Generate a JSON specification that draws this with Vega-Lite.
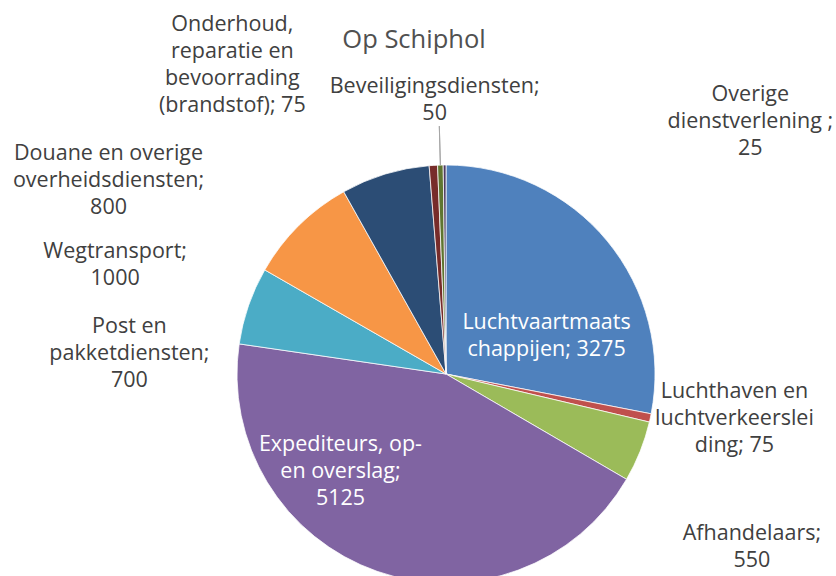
{
  "$schema": "https://vega.github.io/schema/vega-lite/v6.json",
  "width": 780,
  "height": 404,
  "autosize": {"type": "none"},
  "padding": {"left": 56, "top": 172, "right": 0, "bottom": 0},
  "background": "white",
  "title": {"text": "Op Schiphol", "font": "Open Sans", "fontSize": 25.5, "fontWeight": "normal", "color": "#505050", "frame": "group", "offset": -40, "dx": -32},
  "config": {"view": {"stroke": null}},
  "data": {"values": [
    {"idx": 1, "name": "Luchtvaartmaatschappijen", "value": 3275, "label": "Luchtvaartmaats\nchappijen; 3275"},
    {"idx": 2, "name": "Luchthaven en luchtverkeersleiding", "value": 75, "label": "Luchthaven en\nluchtverkeerslei\nding; 75"},
    {"idx": 3, "name": "Afhandelaars", "value": 550, "label": "Afhandelaars;\n550"},
    {"idx": 4, "name": "Expediteurs, op- en overslag", "value": 5125, "label": "Expediteurs, op-\nen overslag;\n5125"},
    {"idx": 5, "name": "Post en pakketdiensten", "value": 700, "label": "Post en\npakketdiensten;\n700"},
    {"idx": 6, "name": "Wegtransport", "value": 1000, "label": "Wegtransport;\n1000"},
    {"idx": 7, "name": "Douane en overige overheidsdiensten", "value": 800, "label": "Douane en overige\noverheidsdiensten;\n800"},
    {"idx": 8, "name": "Onderhoud, reparatie en bevoorrading (brandstof)", "value": 75, "label": "Onderhoud,\nreparatie en\nbevoorrading\n(brandstof); 75"},
    {"idx": 9, "name": "Beveiligingsdiensten", "value": 50, "label": "Beveiligingsdiensten;\n50"},
    {"idx": 10, "name": "Overige dienstverlening", "value": 25, "label": "Overige\ndienstverlening ;\n25"}
  ]},
  "encoding": {
    "theta": {"field": "value", "type": "quantitative", "stack": true},
    "order": {"field": "idx", "type": "quantitative"},
    "detail": {"field": "name", "type": "nominal"}
  },
  "layer": [
    {
      "mark": {"type": "arc", "outerRadius": 209, "stroke": "white", "strokeWidth": 0.75},
      "encoding": {
        "color": {"field": "name", "type": "nominal", "legend": null,
          "scale": {
            "domain": ["Luchtvaartmaatschappijen", "Luchthaven en luchtverkeersleiding", "Afhandelaars", "Expediteurs, op- en overslag", "Post en pakketdiensten", "Wegtransport", "Douane en overige overheidsdiensten", "Onderhoud, reparatie en bevoorrading (brandstof)", "Beveiligingsdiensten", "Overige dienstverlening"],
            "range": ["#4F81BD", "#C0504D", "#9BBB59", "#8064A2", "#4BACC6", "#F79646", "#2C4D75", "#772C2A", "#5F7530", "#4D3B62"]
          }}
      }
    },
    {
      "mark": {"type": "arc", "innerRadius": 209, "outerRadius": 248, "padAngle": 3.14159, "fill": null, "stroke": "#a6a6a6", "strokeWidth": 1},
      "encoding": {
        "strokeOpacity": {"condition": {"test": "datum.idx == 9", "value": 1}, "value": 0}
      }
    },
    {
      "mark": {"type": "text", "radius": 107, "dx": 18, "dy": 17, "font": "Open Sans", "fontSize": 21.5, "lineHeight": 27, "fill": "white", "align": "center", "baseline": "middle", "lineBreak": "\n"},
      "encoding": {"text": {"condition": {"test": "datum.idx == 1", "field": "label"}, "value": ""}}
    },
    {
      "mark": {"type": "text", "radius": 292, "dx": 3, "dy": -43, "font": "Open Sans", "fontSize": 21.5, "lineHeight": 27, "fill": "#404040", "align": "center", "baseline": "middle", "lineBreak": "\n"},
      "encoding": {"text": {"condition": {"test": "datum.idx == 2", "field": "label"}, "value": ""}}
    },
    {
      "mark": {"type": "text", "radius": 352, "dx": -21, "dy": 29, "font": "Open Sans", "fontSize": 21.5, "lineHeight": 27, "fill": "#404040", "align": "center", "baseline": "middle", "lineBreak": "\n"},
      "encoding": {"text": {"condition": {"test": "datum.idx == 3", "field": "label"}, "value": ""}}
    },
    {
      "mark": {"type": "text", "radius": 144, "dx": -58, "dy": -65, "font": "Open Sans", "fontSize": 21.5, "lineHeight": 27, "fill": "white", "align": "center", "baseline": "middle", "lineBreak": "\n"},
      "encoding": {"text": {"condition": {"test": "datum.idx == 4", "field": "label"}, "value": ""}}
    },
    {
      "mark": {"type": "text", "radius": 317, "dx": -17, "dy": 57, "font": "Open Sans", "fontSize": 21.5, "lineHeight": 27, "fill": "#404040", "align": "center", "baseline": "middle", "lineBreak": "\n"},
      "encoding": {"text": {"condition": {"test": "datum.idx == 5", "field": "label"}, "value": ""}}
    },
    {
      "mark": {"type": "text", "radius": 348, "dx": -86, "dy": 125, "font": "Open Sans", "fontSize": 21.5, "lineHeight": 27, "fill": "#404040", "align": "center", "baseline": "middle", "lineBreak": "\n"},
      "encoding": {"text": {"condition": {"test": "datum.idx == 6", "field": "label"}, "value": ""}}
    },
    {
      "mark": {"type": "text", "radius": 389, "dx": -224, "dy": 152, "font": "Open Sans", "fontSize": 21.5, "lineHeight": 27, "fill": "#404040", "align": "center", "baseline": "middle", "lineBreak": "\n"},
      "encoding": {"text": {"condition": {"test": "datum.idx == 7", "field": "label"}, "value": ""}}
    },
    {
      "mark": {"type": "text", "radius": 375, "dx": -191, "dy": 25, "font": "Open Sans", "fontSize": 21.5, "lineHeight": 27, "fill": "#404040", "align": "center", "baseline": "middle", "lineBreak": "\n"},
      "encoding": {"text": {"condition": {"test": "datum.idx == 8", "field": "label"}, "value": ""}}
    },
    {
      "mark": {"type": "text", "radius": 273, "dx": -4, "dy": -14, "font": "Open Sans", "fontSize": 21.5, "lineHeight": 27, "fill": "#404040", "align": "center", "baseline": "middle", "lineBreak": "\n"},
      "encoding": {"text": {"condition": {"test": "datum.idx == 9", "field": "label"}, "value": ""}}
    },
    {
      "mark": {"type": "text", "radius": 395, "dx": 307, "dy": 116, "font": "Open Sans", "fontSize": 21.5, "lineHeight": 27, "fill": "#404040", "align": "center", "baseline": "middle", "lineBreak": "\n"},
      "encoding": {"text": {"condition": {"test": "datum.idx == 10", "field": "label"}, "value": ""}}
    }
  ]
}
